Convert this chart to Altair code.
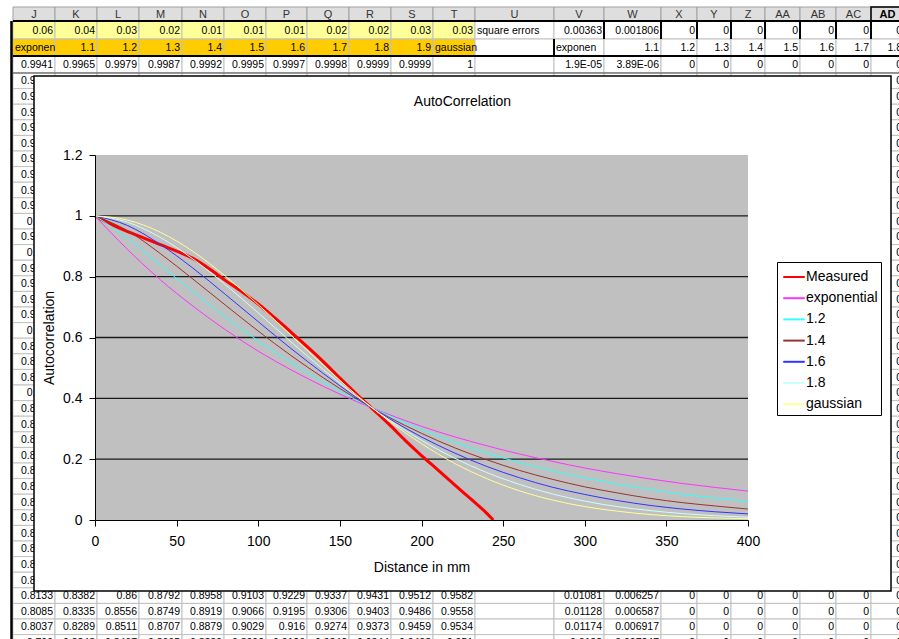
import altair as alt
import pandas as pd

# ------------------------------------------------------------------
# Chart data
# ------------------------------------------------------------------
series_names = ["Measured", "exponential", "1.2", "1.4", "1.6", "1.8", "gaussian"]

distance = [0, 20, 40, 60, 80, 100, 120, 140, 160, 180, 200,
            220, 240, 260, 280, 300, 320, 340, 360, 380, 400]
exponential = [1.0, 0.889, 0.790, 0.703, 0.625, 0.555, 0.494, 0.439, 0.390, 0.347, 0.308,
               0.274, 0.244, 0.217, 0.193, 0.171, 0.152, 0.135, 0.120, 0.107, 0.095]
exp_1_2 = [1.0, 0.926, 0.838, 0.751, 0.667, 0.589, 0.518, 0.453, 0.395, 0.343, 0.297,
           0.256, 0.220, 0.189, 0.162, 0.139, 0.118, 0.101, 0.085, 0.072, 0.061]
exp_1_4 = [1.0, 0.951, 0.876, 0.792, 0.706, 0.621, 0.541, 0.467, 0.399, 0.338, 0.285,
           0.238, 0.198, 0.163, 0.134, 0.109, 0.089, 0.071, 0.057, 0.046, 0.036]
exp_1_6 = [1.0, 0.968, 0.906, 0.828, 0.741, 0.652, 0.564, 0.481, 0.403, 0.334, 0.273,
           0.221, 0.176, 0.139, 0.108, 0.084, 0.064, 0.048, 0.036, 0.027, 0.020]
exp_1_8 = [1.0, 0.979, 0.929, 0.858, 0.773, 0.681, 0.586, 0.494, 0.408, 0.330, 0.262,
           0.204, 0.156, 0.117, 0.086, 0.062, 0.044, 0.031, 0.021, 0.014, 0.009]
gaussian = [1.0, 0.986, 0.946, 0.883, 0.801, 0.708, 0.608, 0.508, 0.412, 0.326, 0.251,
            0.187, 0.136, 0.096, 0.066, 0.044, 0.029, 0.018, 0.011, 0.007, 0.004]

measured_distance = [0, 10, 20, 30, 40, 50, 60, 70, 80, 90, 100, 110, 120,
                     130, 140, 150, 160, 170, 180, 190, 200, 210, 220, 230, 240, 244]
measured = [1.0, 0.972, 0.948, 0.927, 0.905, 0.884, 0.860, 0.826, 0.787, 0.750, 0.710, 0.665, 0.618,
            0.570, 0.520, 0.467, 0.415, 0.365, 0.315, 0.262, 0.212, 0.165, 0.117, 0.070, 0.022, 0.0]

x_ticks = [0, 50, 100, 150, 200, 250, 300, 350, 400]
y_ticks = [0, 0.2, 0.4, 0.6, 0.8, 1.0, 1.2]
grid_values = [0.2, 0.4, 0.6, 0.8, 1.0]

chart_title = "AutoCorrelation"
x_title = "Distance in mm"
y_title = "Autocorrelation"

# ------------------------------------------------------------------
# Spreadsheet behind the chart (text)
# ------------------------------------------------------------------
col_letters = ["J", "K", "L", "M", "N", "O", "P", "Q", "R", "S", "T",
               "U", "V", "W", "X", "Y", "Z", "AA", "AB", "AC", "AD"]
row1 = ["0.06", "0.04", "0.03", "0.02", "0.01", "0.01", "0.01", "0.02", "0.02", "0.03", "0.03",
        "square errors", "0.00363", "0.001806", "0", "0", "0", "0", "0", "0", "0"]
row2 = ["exponen", "1.1", "1.2", "1.3", "1.4", "1.5", "1.6", "1.7", "1.8", "1.9", "gaussian",
        "", "exponen", "1.1", "1.2", "1.3", "1.4", "1.5", "1.6", "1.7", "1.8"]
row3 = ["0.9941", "0.9965", "0.9979", "0.9987", "0.9992", "0.9995", "0.9997", "0.9998", "0.9999", "0.9999", "1",
        "", "1.9E-05", "3.89E-06", "0", "0", "0", "0", "0", "0", "0"]
left_strip = ["0.9882", "0.9824", "0.9766", "0.9708", "0.9651", "0.9594", "0.9538", "0.9482", "0.9426",
              "0.937", "0.9315", "0.926", "0.9205", "0.9151", "0.9097", "0.9043", "0.899", "0.8937",
              "0.8885", "0.8832", "0.878", "0.8728", "0.8677", "0.8626", "0.8575", "0.8524", "0.8474",
              "0.8424", "0.8375", "0.8325", "0.8276", "0.8228", "0.8179"]
row37 = ["0.8133", "0.8382", "0.86", "0.8792", "0.8958", "0.9103", "0.9229", "0.9337", "0.9431", "0.9512", "0.9582",
         "", "0.01081", "0.006257", "0", "0", "0", "0", "0", "0", "0"]
row38 = ["0.8085", "0.8335", "0.8556", "0.8749", "0.8919", "0.9066", "0.9195", "0.9306", "0.9403", "0.9486", "0.9558",
         "", "0.01128", "0.006587", "0", "0", "0", "0", "0", "0", "0"]
row39 = ["0.8037", "0.8289", "0.8511", "0.8707", "0.8879", "0.9029", "0.916", "0.9274", "0.9373", "0.9459", "0.9534",
         "", "0.01174", "0.006917", "0", "0", "0", "0", "0", "0", "0"]
row40 = ["0.799", "0.8243", "0.8467", "0.8665", "0.8839", "0.8992", "0.9126", "0.9242", "0.9344", "0.9432", "0.951",
         "", "0.0122", "0.007247", "0", "0", "0", "0", "0", "0", "0"]

# ------------------------------------------------------------------
# Layout / style (kept apart from the data)
# ------------------------------------------------------------------
FONT = "Liberation Sans"
PLOT_LEFT, PLOT_TOP, PLOT_W, PLOT_H = 95, 155, 653, 365
CANVAS_W, CANVAS_H = 899, 639

series_colors = ["#ff0000", "#ff33ff", "#33ffff", "#993333", "#3333ff", "#ccffff", "#ffff99"]

COL_EDGES = [13, 55, 97, 139, 182, 224, 266, 307, 349, 391, 433, 475, 554, 604,
             661, 697, 731, 765, 800, 836, 871, 904]
HEADER_SPAN = (7, 21)
TOP_ROWS = {1: (21, 39), 2: (39, 56), 3: (56, 73)}
ROW_PITCH = 15.6
N_ROWS = 40
FRAME = dict(x0=34, x1=891, y0=76, y1=591)
TITLE_POS = dict(x=462.5, y=102)


def row_span(r):
    if r in TOP_ROWS:
        return TOP_ROWS[r]
    t = 73 + (r - 4) * ROW_PITCH
    return (t, t + ROW_PITCH)


def is_number(s):
    try:
        float(s)
        return True
    except ValueError:
        return False


row_content = {1: row1, 2: row2, 3: row3, 37: row37, 38: row38, 39: row39, 40: row40}
for i, v in enumerate(left_strip):
    cells = [""] * len(col_letters)
    cells[0] = v
    cells[-1] = "0"
    row_content[4 + i] = cells

rects, txt_r, txt_l, txt_h, txt_hb = [], [], [], [], []
for ci, letter in enumerate(col_letters):
    x0, x1 = COL_EDGES[ci], COL_EDGES[ci + 1]
    y0, y1 = HEADER_SPAN
    rects.append(dict(x0=x0, x1=x1, y0=y0, y1=y1, fill="#dedede", stroke="#a0a0a0"))
    rec = dict(x=(x0 + x1) / 2, y=(y0 + y1) / 2 + 0.5, text=letter)
    (txt_hb if letter == "AD" else txt_h).append(rec)

for r in range(1, N_ROWS + 1):
    y0, y1 = row_span(r)
    cells = row_content.get(r, [""] * len(col_letters))
    for ci, val in enumerate(cells):
        x0, x1 = COL_EDGES[ci], COL_EDGES[ci + 1]
        fill = "#ffffff"
        if r == 1 and ci <= 10:
            fill = "#ffff99"
        if r == 2 and ci <= 10:
            fill = "#ffcc00"
        rects.append(dict(x0=x0, x1=x1, y0=y0, y1=y1, fill=fill, stroke="#c0c0c0"))
        if val == "":
            continue
        yc = (y0 + y1) / 2 + 0.5
        if is_number(val):
            txt_r.append(dict(x=x1 - 2, y=yc, text=val))
        else:
            txt_l.append(dict(x=x0 + 2, y=yc, text=val))

borders = [
    dict(x0=13, x1=904, y0=21, y1=21, w=2, c="#000000"),
    dict(x0=13, x1=904, y0=56, y1=56, w=2, c="#000000"),
    dict(x0=13, x1=904, y0=73, y1=73, w=1, c="#505050"),
    dict(x0=11.5, x1=11.5, y0=21, y1=CANVAS_H, w=2.5, c="#000000"),
    dict(x0=554, x1=554, y0=39, y1=56, w=2, c="#000000"),
]
for xe in [604, 661, 697, 731, 765, 800, 836, 871]:
    borders.append(dict(x0=xe, x1=xe, y0=21, y1=39, w=2, c="#000000"))

sheet_x = alt.Scale(domain=[PLOT_LEFT, PLOT_LEFT + PLOT_W], nice=False, zero=False)
sheet_y = alt.Scale(domain=[PLOT_TOP, PLOT_TOP + PLOT_H], nice=False, zero=False, reverse=True)


def sx(f):
    return alt.X(f, type="quantitative", scale=sheet_x, axis=None)


def sy(f):
    return alt.Y(f, type="quantitative", scale=sheet_y, axis=None)


cell_layer = alt.Chart(pd.DataFrame(rects)).mark_rect(strokeWidth=1).encode(
    x=sx("x0"), x2="x1", y=sy("y0"), y2="y1",
    fill=alt.Fill("fill:N", scale=None), stroke=alt.Stroke("stroke:N", scale=None))

txt_style = dict(font=FONT, fontSize=10.5, baseline="middle", color="#000000")
t_right = alt.Chart(pd.DataFrame(txt_r)).mark_text(align="right", **txt_style).encode(
    x=sx("x"), y=sy("y"), text="text:N")
t_left = alt.Chart(pd.DataFrame(txt_l)).mark_text(align="left", **txt_style).encode(
    x=sx("x"), y=sy("y"), text="text:N")
t_head = alt.Chart(pd.DataFrame(txt_h)).mark_text(
    align="center", font=FONT, fontSize=11, baseline="middle", color="#333333").encode(
    x=sx("x"), y=sy("y"), text="text:N")
t_head_b = alt.Chart(pd.DataFrame(txt_hb)).mark_text(
    align="center", font=FONT, fontSize=11, fontWeight="bold", baseline="middle", color="#000000").encode(
    x=sx("x"), y=sy("y"), text="text:N")
border_layer = alt.Chart(pd.DataFrame(borders)).mark_rule().encode(
    x=sx("x0"), x2="x1", y=sy("y0"), y2="y1",
    strokeWidth=alt.StrokeWidth("w:Q", scale=None), color=alt.Color("c:N", scale=None))
ad_box = alt.Chart(pd.DataFrame([dict(x0=COL_EDGES[-2], x1=COL_EDGES[-1], y0=HEADER_SPAN[0], y1=HEADER_SPAN[1])])).mark_rect(
    fill=None, stroke="#000000", strokeWidth=1.5).encode(x=sx("x0"), x2="x1", y=sy("y0"), y2="y1")
frame_layer = alt.Chart(pd.DataFrame([FRAME])).mark_rect(
    fill="#ffffff", stroke="#000000", strokeWidth=1.5).encode(x=sx("x0"), x2="x1", y=sy("y0"), y2="y1")
title_layer = alt.Chart(pd.DataFrame([dict(TITLE_POS, text=chart_title)])).mark_text(
    font=FONT, fontSize=14, align="center", baseline="middle", color="#000000").encode(
    x=sx("x"), y=sy("y"), text="text:N")

sheet_part = alt.layer(cell_layer, t_right, t_left, t_head, t_head_b, border_layer, ad_box,
                       frame_layer, title_layer)

# ------------------------------------------------------------------
# The Excel chart itself
# ------------------------------------------------------------------
xs = alt.Scale(domain=[x_ticks[0], x_ticks[-1]], nice=False, zero=False)
ys = alt.Scale(domain=[y_ticks[0], y_ticks[-1]], nice=False, zero=False)
axis_common = dict(grid=False, tickSize=6, tickColor="#000000", domainColor="#000000",
                   labelColor="#000000", titleColor="#000000", labelFont=FONT, titleFont=FONT,
                   labelFontSize=14, titleFontSize=14, titleFontWeight="normal",
                   zindex=1, labelFlush=False, labelOverlap=False, domainWidth=1, tickWidth=1,
                   format="~r")
ax_x = alt.Axis(values=x_ticks, title=x_title, labelPadding=8, titlePadding=12, **axis_common)
ax_y = alt.Axis(values=y_ticks, title=y_title, labelPadding=7, titlePadding=6, **axis_common)

plot_bg = alt.Chart(pd.DataFrame([dict(d0=x_ticks[0], d1=x_ticks[-1], v0=y_ticks[0], v1=y_ticks[-1])])).mark_rect(
    fill="#c0c0c0").encode(
    x=alt.X("d0:Q", scale=xs, axis=ax_x), x2="d1",
    y=alt.Y("v0:Q", scale=ys, axis=ax_y), y2="v1")

grid_layer = alt.Chart(pd.DataFrame({"g": grid_values})).mark_rule(
    color="#1a1a1a", strokeWidth=1.3).encode(y=alt.Y("g:Q", scale=ys, axis=ax_y))

model_series = [("exponential", exponential), ("1.2", exp_1_2), ("1.4", exp_1_4),
                ("1.6", exp_1_6), ("1.8", exp_1_8), ("gaussian", gaussian)]
measured_df = pd.DataFrame(dict(series="Measured", d=measured_distance, v=measured))
model_rows = []
for name, vals in model_series:
    model_rows += [dict(series=name, d=d, v=v) for d, v in zip(distance, vals)]
models_df = pd.DataFrame(model_rows)

color_enc = alt.Color(
    "series:N", scale=alt.Scale(domain=series_names, range=series_colors),
    legend=alt.Legend(orient="none", legendX=682, legendY=107, title=None,
                      symbolType="stroke", symbolSize=462, symbolStrokeWidth=2, symbolOffset=2,
                      labelFont=FONT, labelFontSize=14, labelColor="#000000",
                      strokeColor="#000000", fillColor="#ffffff",
                      padding=3, rowPadding=2.2, labelOffset=0, cornerRadius=0))

measured_layer = alt.Chart(measured_df).mark_line(interpolate="monotone", strokeWidth=3).encode(
    x=alt.X("d:Q", scale=xs, axis=ax_x), y=alt.Y("v:Q", scale=ys, axis=ax_y), color=color_enc)
models_layer = alt.Chart(models_df).mark_line(interpolate="monotone", strokeWidth=1).encode(
    x=alt.X("d:Q", scale=xs, axis=ax_x), y=alt.Y("v:Q", scale=ys, axis=ax_y), color=color_enc)

chart_part = alt.layer(plot_bg, grid_layer, measured_layer, models_layer)

chart = alt.layer(sheet_part, chart_part).resolve_scale(
    x="independent", y="independent"
).properties(
    width=PLOT_W, height=PLOT_H,
    padding={"left": PLOT_LEFT, "top": PLOT_TOP,
             "right": CANVAS_W - PLOT_LEFT - PLOT_W, "bottom": CANVAS_H - PLOT_TOP - PLOT_H},
    autosize=alt.AutoSizeParams(type="none"),
).configure(background="#ffffff").configure_view(stroke=None)

chart.save("out.html", embed_options={"renderer": "svg", "actions": False})
